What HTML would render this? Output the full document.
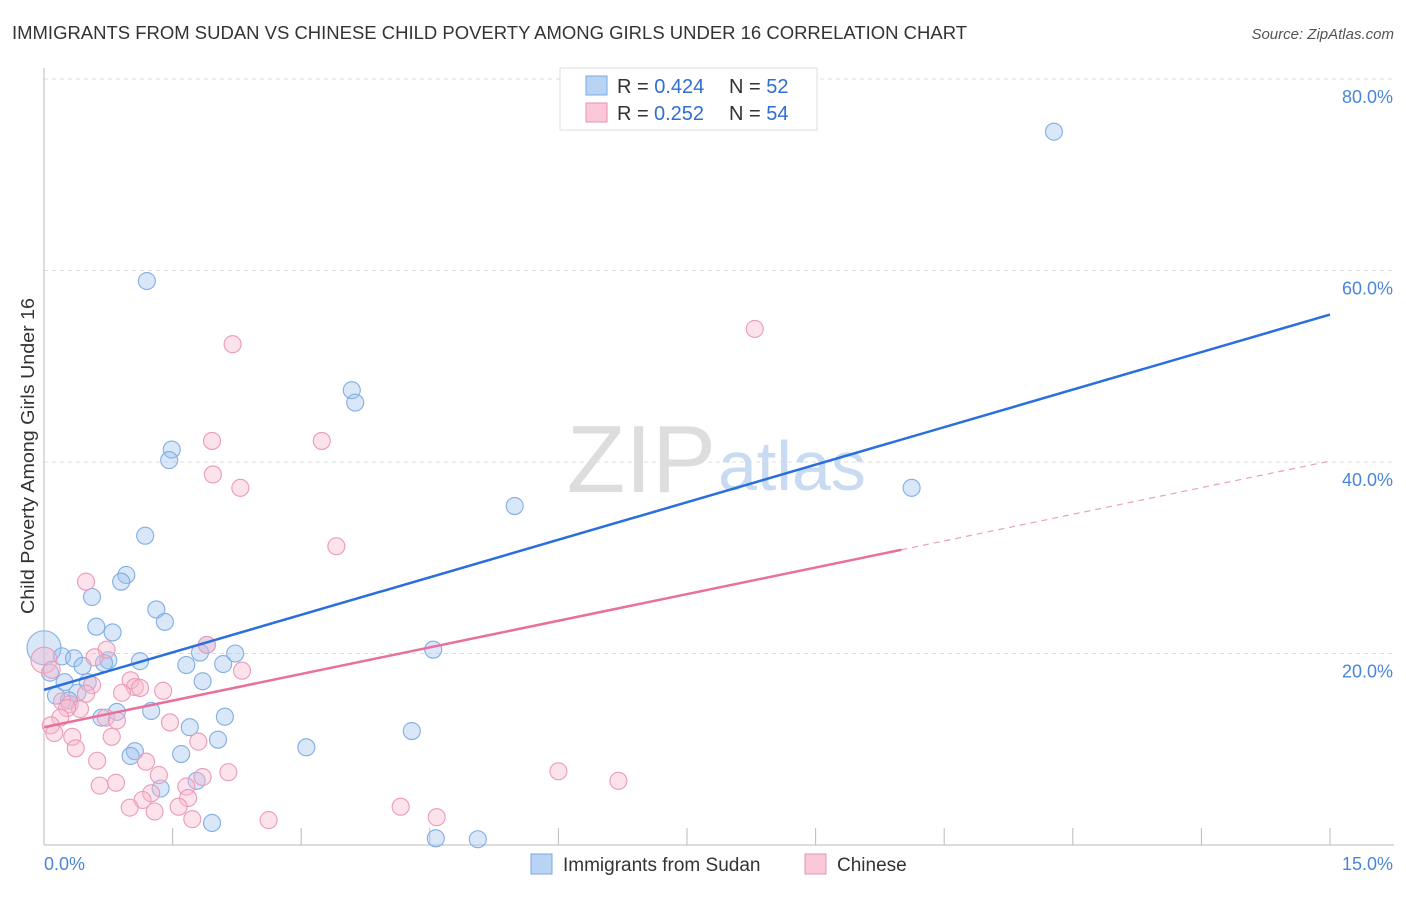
<!DOCTYPE html>
<html><head><meta charset="utf-8">
<style>
body{margin:0;background:#fff;font-family:"Liberation Sans",sans-serif;}
svg text{font-family:"Liberation Sans",sans-serif;}
</style></head>
<body>
<svg id="chart" width="1406" height="892" viewBox="0 0 1406 892">
<text x="12" y="39" font-size="18" fill="#333" textLength="955" lengthAdjust="spacingAndGlyphs">IMMIGRANTS FROM SUDAN VS CHINESE CHILD POVERTY AMONG GIRLS UNDER 16 CORRELATION CHART</text>
<text x="1394" y="39" font-size="15" fill="#555" font-style="italic" text-anchor="end">Source: ZipAtlas.com</text>
<text x="34" y="456" font-size="18" fill="#333" text-anchor="middle" textLength="316" lengthAdjust="spacingAndGlyphs" transform="rotate(-90 34 456)">Child Poverty Among Girls Under 16</text>
<g id="grid"></g>
<text x="716" y="492" font-size="96" fill="#ddd" text-anchor="end" font-family="Liberation Serif">ZIP</text>
<text x="718" y="490" font-size="70" fill="#c8dbf2">atlas</text>
<g id="pts"></g>
<g id="lines"></g>
<g>
<rect x="560" y="68" width="257" height="62" fill="#fff" stroke="#ddd"/>
<rect x="586" y="76" width="21" height="19" fill="#b9d3f5" stroke="#7aaae0"/>
<rect x="586" y="103" width="21" height="19" fill="#fac8d8" stroke="#e890b0"/>
<text x="617" y="93" font-size="20" fill="#333">R = <tspan fill="#2f6fd0">0.424</tspan><tspan x="729">N = </tspan><tspan fill="#2f6fd0">52</tspan></text>
<text x="617" y="120" font-size="20" fill="#333">R = <tspan x="654" fill="#2f6fd0">0.252</tspan><tspan x="729">N = </tspan><tspan fill="#2f6fd0">54</tspan></text>
</g>
<g>
<rect x="531" y="854" width="21" height="20" fill="#b9d3f5" stroke="#7aaae0"/>
<text x="563" y="871" font-size="19" fill="#333">Immigrants from Sudan</text>
<rect x="805" y="854" width="21" height="20" fill="#fac8d8" stroke="#e890b0"/>
<text x="837" y="871" font-size="19" fill="#333">Chinese</text>
</g>
</svg>
<script>
const yTicks=[20,40,60,80];
const yTickLabels=["20.0%","40.0%","60.0%","80.0%"];
const xTicks=[0,1.5,3,4.5,6,7.5,9,10.5,12,13.5,15];
const sudanX=[11.78,1.20,3.59,3.63,1.49,1.46,5.49,10.12,1.18,0.96,0.90,0.56,1.31,1.41,0.61,0.80,0,1.90,1.82,2.23,4.54,0.21,0.35,0.75,1.12,0.70,0.45,1.66,2.09,0.07,0.24,0.51,1.85,0.39,0.14,0.29,0.85,1.25,0.67,2.11,1.70,2.03,4.29,3.06,1.06,1.01,1.60,1.78,1.36,1.96,4.57,5.06];
const sudanY=[74.5,58.9,47.5,46.2,41.3,40.2,35.4,37.3,32.3,28.2,27.5,25.9,24.6,23.3,22.8,22.2,20.6,20.9,20.1,20.0,20.4,19.7,19.5,19.3,19.2,19.0,18.7,18.8,18.9,18.0,17.0,17.0,17.1,15.9,15.6,15.1,13.9,14.0,13.3,13.4,12.3,11.0,11.9,10.2,9.8,9.3,9.5,6.7,5.9,2.3,0.7,0.6];
const chineseX=[8.29,2.20,1.96,3.24,1.97,2.29,3.41,0.49,1.90,0.73,0.59,2.31,0,0.09,1.01,0.56,1.06,1.12,1.39,0.91,0.49,0.21,0.30,0.42,0.27,0.72,0.85,0.19,0.08,1.47,0.12,0.33,0.79,1.80,0.37,0.62,1.19,1.34,2.15,1.85,6.00,6.70,0.84,0.65,1.66,1.25,1.15,1.68,1.00,1.29,1.57,4.16,4.58,1.73,2.62];
const chineseY=[53.9,52.3,42.2,42.2,38.7,37.3,31.2,27.5,20.9,20.4,19.6,18.2,19.3,18.3,17.2,16.7,16.5,16.4,16.1,15.9,15.8,15.0,14.7,14.2,14.3,13.3,13.0,13.3,12.5,12.8,11.7,11.3,11.3,10.8,10.1,8.8,8.7,7.3,7.6,7.1,7.7,6.7,6.5,6.2,6.1,5.4,4.7,4.9,3.9,3.5,4.0,4.0,2.9,2.7,2.6];
const sudanTrend=[16.2,55.4];
const chineseTrend=[12.3,40.1];
const chineseSolidEnd=10.0;
const NS="http://www.w3.org/2000/svg";
const xs=v=>44+v*(1330-44)/15;
const ys=v=>845-v*(845-79)/80;
function mk(tag,attrs,parent){const e=document.createElementNS(NS,tag);for(const k in attrs)e.setAttribute(k,attrs[k]);parent.appendChild(e);return e;}
const grid=document.getElementById('grid');
yTicks.forEach((t,i)=>{
 const l=mk('line',{x1:44,x2:1394,y1:ys(t),y2:ys(t),stroke:'#ddd','stroke-dasharray':'4,4'},grid);
 
 
 const tx=mk('text',{x:1393,y:ys(t)+24,'font-size':18,fill:'#4a86d8','text-anchor':'end'},grid);
 tx.textContent=yTickLabels[i];
 
 
});
const ax=mk('line',{x1:44,x2:44,y1:68,y2:845,stroke:'#bbb'},grid);


const bx=mk('line',{x1:44,x2:1394,y1:845,y2:845,stroke:'#bbb'},grid);


xTicks.forEach(t=>{
 const l=mk('line',{x1:xs(t),x2:xs(t),y1:828,y2:845,stroke:'#bbb'},grid);
 
 
});
const xl0=mk('text',{x:44,y:870,'font-size':18,fill:'#4a86d8'},grid);xl0.textContent='0.0%';


const xl1=mk('text',{x:1393,y:870,'font-size':18,fill:'#4a86d8','text-anchor':'end'},grid);xl1.textContent='15.0%';


const pts=document.getElementById('pts');
sudanX.forEach((x,i)=>{
 const c=mk('circle',{cx:xs(x),cy:ys(sudanY[i]),r:x===0?17:8.5,fill:'rgba(160,195,240,0.4)',stroke:'#80aee3','stroke-width':1.1},pts);
 
 
});
chineseX.forEach((x,i)=>{
 const c=mk('circle',{cx:xs(x),cy:ys(chineseY[i]),r:x===0?13:8.5,fill:'rgba(247,185,205,0.4)',stroke:'#eb9ab8','stroke-width':1.1},pts);
 
 
});
const lines=document.getElementById('lines');
const bl=mk('line',{x1:xs(0),y1:ys(sudanTrend[0]),x2:xs(15),y2:ys(sudanTrend[1]),stroke:'#2a6fdb','stroke-width':2.5},lines);


const cy=x=>chineseTrend[0]+(chineseTrend[1]-chineseTrend[0])*x/15;
const pl=mk('line',{x1:xs(0),y1:ys(cy(0)),x2:xs(chineseSolidEnd),y2:ys(cy(chineseSolidEnd)),stroke:'#e8709a','stroke-width':2.5},lines);


const pd=mk('line',{x1:xs(chineseSolidEnd),y1:ys(cy(chineseSolidEnd)),x2:xs(15),y2:ys(cy(15)),stroke:'#e8a0b8','stroke-width':1.2,'stroke-dasharray':'6,5'},lines);


</script>
</body></html>
